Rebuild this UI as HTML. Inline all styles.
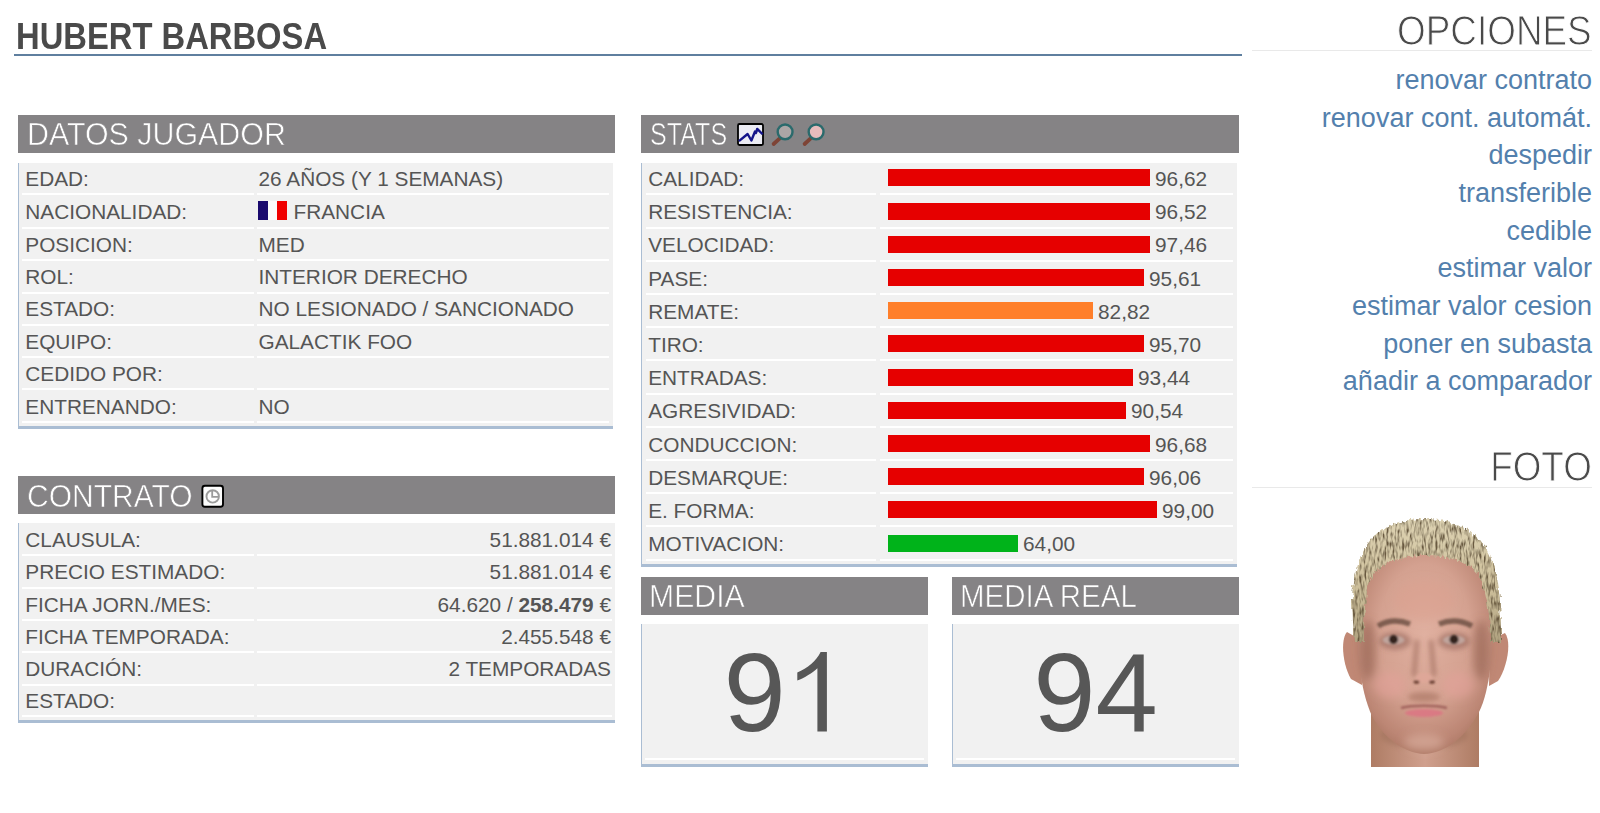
<!DOCTYPE html>
<html><head><meta charset="utf-8"><style>
html,body{margin:0;padding:0;background:#fff;}
body{width:1600px;height:813px;position:relative;overflow:hidden;font-family:"Liberation Sans",sans-serif;}
.t{position:absolute;white-space:nowrap;}
.r{position:absolute;}
b{font-weight:700;}
</style></head><body>
<div class="t" style="left:15.50px;top:17.98px;font-size:37px;line-height:37px;color:#4a4a4a;font-weight:700;transform:scaleX(0.885);transform-origin:left top;">HUBERT BARBOSA</div><div class="r" style="left:14px;top:53.5px;width:1228px;height:2px;background:#5f7f9f;"></div><div class="t" style="right:8.50px;top:9.85px;font-size:42px;line-height:42px;color:#4a4a4a;font-weight:400;transform:scaleX(0.878);transform-origin:right top;-webkit-text-stroke:1px #ffffff;">OPCIONES</div><div class="r" style="left:1252px;top:50px;width:340px;height:1px;background:#e9e9e9;"></div><div class="t" style="right:8.00px;top:66.54px;font-size:27px;line-height:27px;color:#5380ad;font-weight:400;">renovar contrato</div><div class="t" style="right:8.00px;top:104.74px;font-size:27px;line-height:27px;color:#5380ad;font-weight:400;">renovar cont. automát.</div><div class="t" style="right:8.00px;top:142.34px;font-size:27px;line-height:27px;color:#5380ad;font-weight:400;">despedir</div><div class="t" style="right:8.00px;top:180.04px;font-size:27px;line-height:27px;color:#5380ad;font-weight:400;">transferible</div><div class="t" style="right:8.00px;top:217.64px;font-size:27px;line-height:27px;color:#5380ad;font-weight:400;">cedible</div><div class="t" style="right:8.00px;top:255.44px;font-size:27px;line-height:27px;color:#5380ad;font-weight:400;">estimar valor</div><div class="t" style="right:8.00px;top:293.04px;font-size:27px;line-height:27px;color:#5380ad;font-weight:400;">estimar valor cesion</div><div class="t" style="right:8.00px;top:330.74px;font-size:27px;line-height:27px;color:#5380ad;font-weight:400;">poner en subasta</div><div class="t" style="right:8.00px;top:368.34px;font-size:27px;line-height:27px;color:#5380ad;font-weight:400;">añadir a comparador</div><div class="t" style="right:8.50px;top:445.55px;font-size:42px;line-height:42px;color:#4a4a4a;font-weight:400;transform:scaleX(0.878);transform-origin:right top;-webkit-text-stroke:1px #ffffff;">FOTO</div><div class="r" style="left:1252px;top:487px;width:340px;height:1px;background:#e9e9e9;"></div><div class="r" style="left:18px;top:115px;width:597px;height:38px;background:#858385;"></div><div class="t" style="left:0.00px;top:119.61px;font-size:30px;line-height:30px;color:#ffffff;font-weight:400;"></div><div class="t" style="left:26.80px;top:118.76px;font-size:31px;line-height:31px;color:#fff;font-weight:400;transform:scaleX(0.98);transform-origin:left top;-webkit-text-stroke:0.6px #858385;">DATOS JUGADOR</div><div class="r" style="left:641px;top:115px;width:598px;height:38px;background:#858385;"></div><div class="t" style="left:0.00px;top:119.61px;font-size:30px;line-height:30px;color:#ffffff;font-weight:400;"></div><div class="t" style="left:649.50px;top:118.76px;font-size:31px;line-height:31px;color:#fff;font-weight:400;transform:scaleX(0.81);transform-origin:left top;-webkit-text-stroke:0.6px #858385;">STATS</div><div class="r" style="left:18px;top:476px;width:597px;height:38px;background:#858385;"></div><div class="t" style="left:0.00px;top:480.61px;font-size:30px;line-height:30px;color:#ffffff;font-weight:400;"></div><div class="t" style="left:27.00px;top:480.76px;font-size:31px;line-height:31px;color:#fff;font-weight:400;transform:scaleX(0.968);transform-origin:left top;-webkit-text-stroke:0.6px #858385;">CONTRATO</div><div class="r" style="left:641px;top:577px;width:287px;height:38px;background:#858385;"></div><div class="t" style="left:0.00px;top:581.61px;font-size:30px;line-height:30px;color:#ffffff;font-weight:400;"></div><div class="t" style="left:648.80px;top:581.36px;font-size:31px;line-height:31px;color:#fff;font-weight:400;transform:scaleX(0.975);transform-origin:left top;-webkit-text-stroke:0.6px #858385;">MEDIA</div><div class="r" style="left:952px;top:577px;width:287px;height:38px;background:#858385;"></div><div class="t" style="left:0.00px;top:581.61px;font-size:30px;line-height:30px;color:#ffffff;font-weight:400;"></div><div class="t" style="left:959.80px;top:581.36px;font-size:31px;line-height:31px;color:#fff;font-weight:400;transform:scaleX(0.95);transform-origin:left top;-webkit-text-stroke:0.6px #858385;">MEDIA REAL</div><svg class="r" style="left:730px;top:116px" width="110" height="36" viewBox="730 116 110 36">
<rect x="738" y="124" width="25" height="21" rx="1.5" ry="1.5" fill="#ececf4" stroke="#000" stroke-width="1.8"/>
<polyline points="738.9,141.1 747.6,134 751.4,140.5 755,131.5 756,133 757.2,128.9 762.6,134.25" fill="none" stroke="#14148a" stroke-width="2.4" stroke-linejoin="round"/>
<line x1="773.6" y1="144" x2="779.5" y2="138.6" stroke="#7e4436" stroke-width="3.8" stroke-linecap="round"/>
<circle cx="785.1" cy="131.9" r="7.4" fill="#aca6a6" stroke="#2a6a6c" stroke-width="2.4"/>
<line x1="804.6" y1="144" x2="810.4" y2="138.6" stroke="#7e4436" stroke-width="3.8" stroke-linecap="round"/>
<circle cx="816.1" cy="131.9" r="7.4" fill="#e6bcbc" stroke="#2a6a6c" stroke-width="2.4"/>
</svg><svg class="r" style="left:198px;top:482px" width="30" height="30" viewBox="198 482 30 30">
<rect x="202.4" y="485.8" width="20.6" height="20.9" rx="2.5" ry="2.5" fill="#fdfdfd" stroke="#000" stroke-width="1.9"/>
<circle cx="212.7" cy="496.4" r="6.2" fill="none" stroke="#9c9c9c" stroke-width="1.9"/>
<polyline points="212.2,490 212.2,496.8 218.6,496.8" fill="none" stroke="#9a9a9a" stroke-width="1.8"/>
</svg><div class="r" style="left:18px;top:163px;width:595px;height:263px;background:#f1f1f1;"></div><div class="r" style="left:18px;top:163px;width:1px;height:266px;background:#aabdd3;"></div><div class="r" style="left:18px;top:426px;width:595px;height:3px;background:#aabdd3;"></div><div class="r" style="left:22px;top:193px;width:232px;height:2px;background:#ffffff;"></div><div class="r" style="left:257px;top:193px;width:352px;height:2px;background:#ffffff;"></div><div class="r" style="left:22px;top:227px;width:232px;height:2px;background:#ffffff;"></div><div class="r" style="left:257px;top:227px;width:352px;height:2px;background:#ffffff;"></div><div class="r" style="left:22px;top:259px;width:232px;height:2px;background:#ffffff;"></div><div class="r" style="left:257px;top:259px;width:352px;height:2px;background:#ffffff;"></div><div class="r" style="left:22px;top:292px;width:232px;height:2px;background:#ffffff;"></div><div class="r" style="left:257px;top:292px;width:352px;height:2px;background:#ffffff;"></div><div class="r" style="left:22px;top:324px;width:232px;height:2px;background:#ffffff;"></div><div class="r" style="left:257px;top:324px;width:352px;height:2px;background:#ffffff;"></div><div class="r" style="left:22px;top:356px;width:232px;height:2px;background:#ffffff;"></div><div class="r" style="left:257px;top:356px;width:352px;height:2px;background:#ffffff;"></div><div class="r" style="left:22px;top:388px;width:232px;height:2px;background:#ffffff;"></div><div class="r" style="left:257px;top:388px;width:352px;height:2px;background:#ffffff;"></div><div class="r" style="left:22px;top:421px;width:232px;height:2px;background:#ffffff;"></div><div class="r" style="left:257px;top:421px;width:352px;height:2px;background:#ffffff;"></div><div class="t" style="left:25.30px;top:168.59px;font-size:20.8px;line-height:20.8px;color:#555555;font-weight:400;">EDAD:</div><div class="t" style="left:258.50px;top:168.59px;font-size:20.8px;line-height:20.8px;color:#555555;font-weight:400;">26 AÑOS (Y 1 SEMANAS)</div><div class="t" style="left:25.30px;top:201.99px;font-size:20.8px;line-height:20.8px;color:#555555;font-weight:400;">NACIONALIDAD:</div><div class="r" style="left:258px;top:201px;width:29px;height:19px;background:linear-gradient(90deg,#1a0a6e 0 10px,#fbfbfb 10px 19px,#f00000 19px)"></div><div class="t" style="left:293.50px;top:201.99px;font-size:20.8px;line-height:20.8px;color:#555555;font-weight:400;">FRANCIA</div><div class="t" style="left:25.30px;top:234.59px;font-size:20.8px;line-height:20.8px;color:#555555;font-weight:400;">POSICION:</div><div class="t" style="left:258.50px;top:234.59px;font-size:20.8px;line-height:20.8px;color:#555555;font-weight:400;">MED</div><div class="t" style="left:25.30px;top:267.29px;font-size:20.8px;line-height:20.8px;color:#555555;font-weight:400;">ROL:</div><div class="t" style="left:258.50px;top:267.29px;font-size:20.8px;line-height:20.8px;color:#555555;font-weight:400;">INTERIOR DERECHO</div><div class="t" style="left:25.30px;top:299.39px;font-size:20.8px;line-height:20.8px;color:#555555;font-weight:400;">ESTADO:</div><div class="t" style="left:258.50px;top:299.39px;font-size:20.8px;line-height:20.8px;color:#555555;font-weight:400;">NO LESIONADO / SANCIONADO</div><div class="t" style="left:25.30px;top:331.99px;font-size:20.8px;line-height:20.8px;color:#555555;font-weight:400;">EQUIPO:</div><div class="t" style="left:258.50px;top:331.99px;font-size:20.8px;line-height:20.8px;color:#555555;font-weight:400;">GALACTIK FOO</div><div class="t" style="left:25.30px;top:364.09px;font-size:20.8px;line-height:20.8px;color:#555555;font-weight:400;">CEDIDO POR:</div><div class="t" style="left:258.50px;top:364.09px;font-size:20.8px;line-height:20.8px;color:#555555;font-weight:400;"></div><div class="t" style="left:25.30px;top:396.79px;font-size:20.8px;line-height:20.8px;color:#555555;font-weight:400;">ENTRENANDO:</div><div class="t" style="left:258.50px;top:396.79px;font-size:20.8px;line-height:20.8px;color:#555555;font-weight:400;">NO</div><div class="r" style="left:641px;top:163px;width:596px;height:401px;background:#f1f1f1;"></div><div class="r" style="left:641px;top:163px;width:1px;height:404px;background:#aabdd3;"></div><div class="r" style="left:641px;top:564px;width:596px;height:3px;background:#aabdd3;"></div><div class="r" style="left:646px;top:193px;width:230px;height:2px;background:#ffffff;"></div><div class="r" style="left:880px;top:193px;width:353px;height:2px;background:#ffffff;"></div><div class="r" style="left:646px;top:227px;width:230px;height:2px;background:#ffffff;"></div><div class="r" style="left:880px;top:227px;width:353px;height:2px;background:#ffffff;"></div><div class="r" style="left:646px;top:260px;width:230px;height:2px;background:#ffffff;"></div><div class="r" style="left:880px;top:260px;width:353px;height:2px;background:#ffffff;"></div><div class="r" style="left:646px;top:293px;width:230px;height:2px;background:#ffffff;"></div><div class="r" style="left:880px;top:293px;width:353px;height:2px;background:#ffffff;"></div><div class="r" style="left:646px;top:326px;width:230px;height:2px;background:#ffffff;"></div><div class="r" style="left:880px;top:326px;width:353px;height:2px;background:#ffffff;"></div><div class="r" style="left:646px;top:359px;width:230px;height:2px;background:#ffffff;"></div><div class="r" style="left:880px;top:359px;width:353px;height:2px;background:#ffffff;"></div><div class="r" style="left:646px;top:393px;width:230px;height:2px;background:#ffffff;"></div><div class="r" style="left:880px;top:393px;width:353px;height:2px;background:#ffffff;"></div><div class="r" style="left:646px;top:426px;width:230px;height:2px;background:#ffffff;"></div><div class="r" style="left:880px;top:426px;width:353px;height:2px;background:#ffffff;"></div><div class="r" style="left:646px;top:459px;width:230px;height:2px;background:#ffffff;"></div><div class="r" style="left:880px;top:459px;width:353px;height:2px;background:#ffffff;"></div><div class="r" style="left:646px;top:492px;width:230px;height:2px;background:#ffffff;"></div><div class="r" style="left:880px;top:492px;width:353px;height:2px;background:#ffffff;"></div><div class="r" style="left:646px;top:525px;width:230px;height:2px;background:#ffffff;"></div><div class="r" style="left:880px;top:525px;width:353px;height:2px;background:#ffffff;"></div><div class="r" style="left:646px;top:559px;width:230px;height:2px;background:#ffffff;"></div><div class="r" style="left:880px;top:559px;width:353px;height:2px;background:#ffffff;"></div><div class="t" style="left:648.20px;top:168.99px;font-size:20.8px;line-height:20.8px;color:#555555;font-weight:400;">CALIDAD:</div><div class="r" style="left:888px;top:169px;width:262px;height:17px;background:#e60000;"></div><div class="t" style="left:1155.00px;top:168.99px;font-size:20.8px;line-height:20.8px;color:#555555;font-weight:400;">96,62</div><div class="t" style="left:648.20px;top:202.19px;font-size:20.8px;line-height:20.8px;color:#555555;font-weight:400;">RESISTENCIA:</div><div class="r" style="left:888px;top:203px;width:262px;height:17px;background:#e60000;"></div><div class="t" style="left:1155.00px;top:202.19px;font-size:20.8px;line-height:20.8px;color:#555555;font-weight:400;">96,52</div><div class="t" style="left:648.20px;top:235.39px;font-size:20.8px;line-height:20.8px;color:#555555;font-weight:400;">VELOCIDAD:</div><div class="r" style="left:888px;top:236px;width:262px;height:17px;background:#e60000;"></div><div class="t" style="left:1155.00px;top:235.39px;font-size:20.8px;line-height:20.8px;color:#555555;font-weight:400;">97,46</div><div class="t" style="left:648.20px;top:268.59px;font-size:20.8px;line-height:20.8px;color:#555555;font-weight:400;">PASE:</div><div class="r" style="left:888px;top:269px;width:256px;height:17px;background:#e60000;"></div><div class="t" style="left:1149.00px;top:268.59px;font-size:20.8px;line-height:20.8px;color:#555555;font-weight:400;">95,61</div><div class="t" style="left:648.20px;top:301.79px;font-size:20.8px;line-height:20.8px;color:#555555;font-weight:400;">REMATE:</div><div class="r" style="left:888px;top:302px;width:205px;height:17px;background:#ff7f2a;"></div><div class="t" style="left:1098.00px;top:301.79px;font-size:20.8px;line-height:20.8px;color:#555555;font-weight:400;">82,82</div><div class="t" style="left:648.20px;top:334.99px;font-size:20.8px;line-height:20.8px;color:#555555;font-weight:400;">TIRO:</div><div class="r" style="left:888px;top:335px;width:256px;height:17px;background:#e60000;"></div><div class="t" style="left:1149.00px;top:334.99px;font-size:20.8px;line-height:20.8px;color:#555555;font-weight:400;">95,70</div><div class="t" style="left:648.20px;top:368.19px;font-size:20.8px;line-height:20.8px;color:#555555;font-weight:400;">ENTRADAS:</div><div class="r" style="left:888px;top:369px;width:245px;height:17px;background:#e60000;"></div><div class="t" style="left:1138.00px;top:368.19px;font-size:20.8px;line-height:20.8px;color:#555555;font-weight:400;">93,44</div><div class="t" style="left:648.20px;top:401.39px;font-size:20.8px;line-height:20.8px;color:#555555;font-weight:400;">AGRESIVIDAD:</div><div class="r" style="left:888px;top:402px;width:238px;height:17px;background:#e60000;"></div><div class="t" style="left:1131.00px;top:401.39px;font-size:20.8px;line-height:20.8px;color:#555555;font-weight:400;">90,54</div><div class="t" style="left:648.20px;top:434.59px;font-size:20.8px;line-height:20.8px;color:#555555;font-weight:400;">CONDUCCION:</div><div class="r" style="left:888px;top:435px;width:262px;height:17px;background:#e60000;"></div><div class="t" style="left:1155.00px;top:434.59px;font-size:20.8px;line-height:20.8px;color:#555555;font-weight:400;">96,68</div><div class="t" style="left:648.20px;top:467.79px;font-size:20.8px;line-height:20.8px;color:#555555;font-weight:400;">DESMARQUE:</div><div class="r" style="left:888px;top:468px;width:256px;height:17px;background:#e60000;"></div><div class="t" style="left:1149.00px;top:467.79px;font-size:20.8px;line-height:20.8px;color:#555555;font-weight:400;">96,06</div><div class="t" style="left:648.20px;top:500.99px;font-size:20.8px;line-height:20.8px;color:#555555;font-weight:400;">E. FORMA:</div><div class="r" style="left:888px;top:501px;width:269px;height:17px;background:#e60000;"></div><div class="t" style="left:1162.00px;top:500.99px;font-size:20.8px;line-height:20.8px;color:#555555;font-weight:400;">99,00</div><div class="t" style="left:648.20px;top:534.19px;font-size:20.8px;line-height:20.8px;color:#555555;font-weight:400;">MOTIVACION:</div><div class="r" style="left:888px;top:535px;width:130px;height:17px;background:#00b31a;"></div><div class="t" style="left:1023.00px;top:534.19px;font-size:20.8px;line-height:20.8px;color:#555555;font-weight:400;">64,00</div><div class="r" style="left:18px;top:523px;width:597px;height:197px;background:#f1f1f1;"></div><div class="r" style="left:18px;top:523px;width:1px;height:200px;background:#aabdd3;"></div><div class="r" style="left:18px;top:720px;width:597px;height:3px;background:#aabdd3;"></div><div class="r" style="left:22px;top:554px;width:232px;height:2px;background:#ffffff;"></div><div class="r" style="left:257px;top:554px;width:355px;height:2px;background:#ffffff;"></div><div class="r" style="left:22px;top:587px;width:232px;height:2px;background:#ffffff;"></div><div class="r" style="left:257px;top:587px;width:355px;height:2px;background:#ffffff;"></div><div class="r" style="left:22px;top:619px;width:232px;height:2px;background:#ffffff;"></div><div class="r" style="left:257px;top:619px;width:355px;height:2px;background:#ffffff;"></div><div class="r" style="left:22px;top:651px;width:232px;height:2px;background:#ffffff;"></div><div class="r" style="left:257px;top:651px;width:355px;height:2px;background:#ffffff;"></div><div class="r" style="left:22px;top:684px;width:232px;height:2px;background:#ffffff;"></div><div class="r" style="left:257px;top:684px;width:355px;height:2px;background:#ffffff;"></div><div class="r" style="left:22px;top:715px;width:232px;height:2px;background:#ffffff;"></div><div class="r" style="left:257px;top:715px;width:355px;height:2px;background:#ffffff;"></div><div class="t" style="left:25.30px;top:529.99px;font-size:20.8px;line-height:20.8px;color:#555555;font-weight:400;">CLAUSULA:</div><div class="t" style="right:989.00px;top:529.99px;font-size:20.8px;line-height:20.8px;color:#555555;font-weight:400;">51.881.014 €</div><div class="t" style="left:25.30px;top:562.29px;font-size:20.8px;line-height:20.8px;color:#555555;font-weight:400;">PRECIO ESTIMADO:</div><div class="t" style="right:989.00px;top:562.29px;font-size:20.8px;line-height:20.8px;color:#555555;font-weight:400;">51.881.014 €</div><div class="t" style="left:25.30px;top:594.59px;font-size:20.8px;line-height:20.8px;color:#555555;font-weight:400;">FICHA JORN./MES:</div><div class="t" style="right:989.00px;top:594.59px;font-size:20.8px;line-height:20.8px;color:#555555;font-weight:400;">64.620 / <b>258.479</b> €</div><div class="t" style="left:25.30px;top:626.89px;font-size:20.8px;line-height:20.8px;color:#555555;font-weight:400;">FICHA TEMPORADA:</div><div class="t" style="right:989.00px;top:626.89px;font-size:20.8px;line-height:20.8px;color:#555555;font-weight:400;">2.455.548 €</div><div class="t" style="left:25.30px;top:659.19px;font-size:20.8px;line-height:20.8px;color:#555555;font-weight:400;">DURACIÓN:</div><div class="t" style="right:989.00px;top:659.19px;font-size:20.8px;line-height:20.8px;color:#555555;font-weight:400;">2 TEMPORADAS</div><div class="t" style="left:25.30px;top:690.99px;font-size:20.8px;line-height:20.8px;color:#555555;font-weight:400;">ESTADO:</div><div class="r" style="left:641px;top:624px;width:287px;height:140px;background:#f1f1f1;"></div><div class="r" style="left:641px;top:624px;width:1px;height:143px;background:#aabdd3;"></div><div class="r" style="left:641px;top:764px;width:287px;height:3px;background:#aabdd3;"></div><div class="r" style="left:645px;top:758px;width:279px;height:2px;background:#ffffff;"></div><div class="t" style="left:723.5px;top:636.79px;font-size:112px;line-height:112px;color:#575757">9</div><svg class="r" style="left:790px;top:645px" width="45" height="95" viewBox="790 645 45 95"><path d="M826.9 651.9 L820.6 651.9 C816.5 660.5 807.5 668.2 797.3 672.4 L797.3 680.6 C804.5 677.8 812.6 672.8 817.4 668.2 L817.4 731.6 L826.9 731.6 Z" fill="#575757"/></svg><div class="r" style="left:952px;top:624px;width:287px;height:140px;background:#f1f1f1;"></div><div class="r" style="left:952px;top:624px;width:1px;height:143px;background:#aabdd3;"></div><div class="r" style="left:952px;top:764px;width:287px;height:3px;background:#aabdd3;"></div><div class="r" style="left:956px;top:758px;width:279px;height:2px;background:#ffffff;"></div><div class="t" style="left:952px;width:287px;text-align:center;top:636.79px;font-size:112px;line-height:112px;color:#575757">94</div><svg class="r" style="left:1330px;top:510px" width="190" height="265" viewBox="1330 510 190 265">
<defs>
<filter id="bl05" x="-20%" y="-20%" width="140%" height="140%"><feGaussianBlur stdDeviation="0.6"/></filter>
<filter id="bl1" x="-30%" y="-30%" width="160%" height="160%"><feGaussianBlur stdDeviation="1.3"/></filter>
<filter id="bl2" x="-60%" y="-60%" width="220%" height="220%"><feGaussianBlur stdDeviation="2.6"/></filter>
<filter id="bl3" x="-60%" y="-60%" width="220%" height="220%"><feGaussianBlur stdDeviation="4.5"/></filter>
<filter id="hairtex" x="-5%" y="-5%" width="110%" height="110%">
<feTurbulence type="fractalNoise" baseFrequency="0.45 0.12" numOctaves="2" seed="3" result="n"/>
<feDisplacementMap in="SourceGraphic" in2="n" scale="6" xChannelSelector="R" yChannelSelector="G" result="disp"/>
<feColorMatrix in="n" type="matrix" values="0 0 0 0 0  0 0 0 0 0  0 0 0 0 0  0 0 0 2.6 -1.0" result="a"/>
<feComposite in="a" in2="disp" operator="in" result="dk"/>
<feFlood flood-color="#6a5a40"/>
<feComposite in2="dk" operator="in" result="dark"/>
<feMerge><feMergeNode in="disp"/><feMergeNode in="dark"/></feMerge>
</filter>
<radialGradient id="skin" cx="0.5" cy="0.42" r="0.62">
<stop offset="0" stop-color="#e0b0a0"/><stop offset="0.55" stop-color="#d4a190"/><stop offset="0.85" stop-color="#bc8674"/><stop offset="1" stop-color="#a87460"/>
</radialGradient>
<linearGradient id="neck" x1="0" y1="0" x2="1" y2="0">
<stop offset="0" stop-color="#ae7c64"/><stop offset="0.5" stop-color="#d0a08e"/><stop offset="1" stop-color="#ae7c64"/>
</linearGradient>
<linearGradient id="hairg" x1="0" y1="0" x2="0" y2="1">
<stop offset="0" stop-color="#ddd2b2"/><stop offset="0.5" stop-color="#d0c29e"/><stop offset="1" stop-color="#b0a280"/>
</linearGradient>
</defs>
<path d="M1371 700 L1371 767 L1479 767 L1479 700 Z" fill="url(#neck)"/>
<ellipse cx="1424" cy="735" rx="44" ry="14" fill="#9a6c56" opacity="0.45" filter="url(#bl2)"/>
<path d="M1347 632 C1340 640 1343 666 1351 679 L1362 685 L1361 640 Z" fill="#c08874" filter="url(#bl05)"/>
<path d="M1505 633 C1512 642 1507 668 1498 681 L1489 686 L1490 640 Z" fill="#c08874" filter="url(#bl05)"/>
<path d="M1357 600 C1356 650 1360 690 1372 716 C1385 740 1405 753 1424 754 C1445 753 1465 738 1479 712 C1490 690 1494 650 1492 600 C1490 560 1460 548 1424 548 C1388 548 1360 560 1357 600 Z" fill="url(#skin)" filter="url(#bl05)"/>
<g filter="url(#bl3)">
<ellipse cx="1368" cy="650" rx="8" ry="30" fill="#8e5c4a" opacity="0.55"/>
<ellipse cx="1481" cy="650" rx="8" ry="30" fill="#8e5c4a" opacity="0.55"/>
<ellipse cx="1424" cy="600" rx="30" ry="20" fill="#dba090" opacity="0.5"/>
<ellipse cx="1390" cy="685" rx="16" ry="13" fill="#e2a29a" opacity="0.6"/>
<ellipse cx="1458" cy="685" rx="16" ry="13" fill="#e2a29a" opacity="0.6"/>
<ellipse cx="1424" cy="742" rx="20" ry="8" fill="#dcb0a0" opacity="0.6"/>
</g>
<g filter="url(#bl2)">
<ellipse cx="1395" cy="641" rx="16" ry="9" fill="#8c5e52" opacity="0.5"/>
<ellipse cx="1454" cy="641" rx="16" ry="9" fill="#8c5e52" opacity="0.5"/>
<path d="M1417 640 L1414 676 M1431 640 L1434 676" stroke="#8e5c4c" stroke-width="4" opacity="0.6"/>
<ellipse cx="1424" cy="697" rx="16" ry="5" fill="#9e6a58" opacity="0.5"/>
</g>
<g filter="url(#bl1)">
<path d="M1378 626 C1388 620 1400 620 1410 624" stroke="#5a4034" stroke-width="5.5" fill="none" opacity="0.7"/>
<path d="M1439 624 C1449 620 1461 620 1472 626" stroke="#5a4034" stroke-width="5.5" fill="none" opacity="0.7"/>
<ellipse cx="1393.5" cy="640" rx="11" ry="4.6" fill="#c0a49c"/>
<ellipse cx="1454" cy="640" rx="11" ry="4.6" fill="#c0a49c"/>
<circle cx="1393.5" cy="639.5" r="4.6" fill="#30221e"/>
<circle cx="1454" cy="639.5" r="4.6" fill="#30221e"/>
<ellipse cx="1424" cy="678" rx="8" ry="5" fill="#e0a898" opacity="0.8"/>
<ellipse cx="1416.5" cy="682" rx="3" ry="1.8" fill="#6e4236"/>
<ellipse cx="1432" cy="682" rx="3" ry="1.8" fill="#6e4236"/>
<path d="M1401 708 C1412 705 1436 705 1447 708" stroke="#a0625c" stroke-width="2.5" fill="none"/>
<ellipse cx="1424" cy="713" rx="19" ry="4" fill="#dc7482" opacity="0.85"/>
</g>
<path d="M1354 642 L1352 600 C1354 570 1362 548 1374 536 C1386 524 1405 519 1424 519 C1445 519 1466 526 1480 540 C1494 556 1502 580 1501 642 L1490 642 C1490 610 1486 590 1478 573 C1466 560 1445 556 1424 556 C1400 556 1382 562 1372 577 C1365 590 1364 615 1364 642 Z" fill="url(#hairg)" filter="url(#hairtex)"/>
</svg>
</body></html>
